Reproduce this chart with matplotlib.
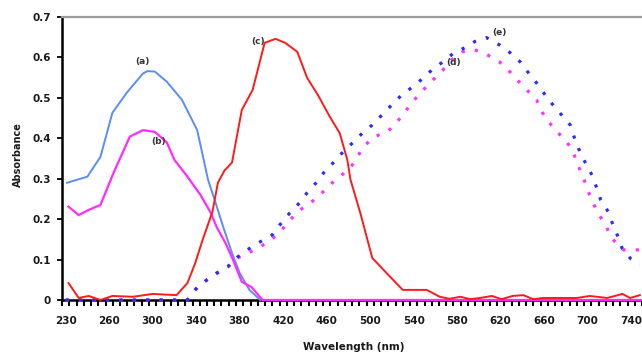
import numpy as np
from matplotlib import pyplot as plt
from matplotlib.ticker import FixedLocator, NullFormatter

# tick labels of the (category) wavelength axis, one label every 6 categories
tick_wl = [230, 260, 300, 340, 380, 420, 460, 500, 540, 580, 620, 660, 700, 740]

# (a) blue solid
a_wl = [231, 245, 254, 263, 276, 291, 295, 302, 313, 327, 341, 351, 357, 365, 373, 380, 389, 399]
a_abs = [0.29, 0.305, 0.354, 0.463, 0.512, 0.56, 0.566, 0.565, 0.54, 0.495, 0.42, 0.297,
         0.248, 0.18, 0.116, 0.067, 0.025, 0.0]

# (b) magenta solid
b_wl = [232, 239, 246, 254, 264, 279, 291, 302, 313, 320, 332, 344, 353, 359, 367, 374, 382,
        391, 401, 750]
b_abs = [0.231, 0.21, 0.223, 0.235, 0.314, 0.404, 0.42, 0.416, 0.39, 0.347, 0.305, 0.26,
         0.218, 0.18, 0.141, 0.099, 0.045, 0.032, 0.0, 0.0]

# (c) red solid
c_wl = [232, 239, 246, 254, 263, 282, 300, 322, 332, 339, 346, 355, 360, 366, 373, 382, 392,
        403, 413, 422, 433, 442, 452, 463, 472, 479, 482, 491, 502, 515, 530, 552, 564, 573,
        583, 592, 601, 612, 621, 631, 641, 650, 659, 675, 690, 702, 718, 732, 739, 748]
c_abs = [0.042, 0.005, 0.01, 0.0, 0.01, 0.008, 0.015, 0.012, 0.042, 0.09, 0.149, 0.218,
         0.29, 0.32, 0.34, 0.47, 0.52, 0.636, 0.646, 0.636, 0.614, 0.55, 0.507, 0.453, 0.413,
         0.347, 0.297, 0.215, 0.104, 0.067, 0.025, 0.025, 0.008, 0.003, 0.008, 0.002, 0.005,
         0.01, 0.002, 0.01, 0.012, 0.002, 0.005, 0.005, 0.005, 0.01, 0.005, 0.015, 0.005,
         0.012]

# (d) magenta dotted
d_wl = [230, 332, 341, 350, 360, 369, 378, 397, 409, 417, 425, 433, 445, 454, 463, 472, 482,
        494, 503, 516, 525, 532, 539, 549, 558, 567, 575, 585, 596, 608, 619, 627, 635, 644,
        653, 658, 664, 672, 681, 687, 691, 696, 700, 705, 710, 717, 722, 733, 742, 752]
d_abs = [0.0, 0.0, 0.03, 0.05, 0.067, 0.082, 0.104, 0.128, 0.149, 0.168, 0.193, 0.218, 0.24,
         0.26, 0.285, 0.305, 0.327, 0.379, 0.403, 0.416, 0.441, 0.465, 0.49, 0.52, 0.545,
         0.569, 0.594, 0.614, 0.619, 0.606, 0.589, 0.569, 0.545, 0.52, 0.495, 0.465, 0.441,
         0.416, 0.391, 0.364, 0.334, 0.304, 0.272, 0.24, 0.213, 0.183, 0.153, 0.124, 0.124,
         0.124]

# (e) blue dotted
e_wl = [230, 332, 341, 350, 359, 369, 378, 387, 397, 410, 417, 426, 435, 442, 451, 458, 467,
        475, 484, 493, 502, 511, 520, 529, 538, 548, 558, 567, 576, 587, 596, 607, 619, 629,
        638, 645, 653, 661, 668, 676, 684, 688, 693, 698, 704, 708, 712, 719, 723, 728, 732,
        740, 748]
e_abs = [0.0, 0.0, 0.032, 0.05, 0.067, 0.082, 0.106, 0.124, 0.141, 0.161, 0.186, 0.215, 0.24,
         0.265, 0.292, 0.317, 0.342, 0.366, 0.389, 0.413, 0.433, 0.458, 0.483, 0.507, 0.525,
         0.547, 0.572, 0.589, 0.609, 0.624, 0.639, 0.649, 0.631, 0.611, 0.589, 0.564, 0.537,
         0.507, 0.483, 0.458, 0.433, 0.40, 0.366, 0.339, 0.309, 0.28, 0.248, 0.218, 0.188,
         0.156, 0.126, 0.101, 0.087]

# category position of each label, padded so the mapping extends past both ends
map_wl = [225] + tick_wl + [780]
map_idx = [-1] + [6 * i for i in range(len(tick_wl))] + [84]


def fwd(x):
    return np.interp(x, map_wl, map_idx)


def inv(i):
    return np.interp(i, map_idx, map_wl)


plt.rcParams['font.family'] = 'DejaVu Sans'
fig = plt.figure(figsize=(6.42, 3.54), dpi=100)
ax = fig.add_axes([62 / 642, 54 / 354, 580 / 642, 283 / 354])
ax.set_xscale('function', functions=(fwd, inv))

dots = (0, (1.0, 3.2))
ax.plot(d_wl, d_abs, color='#ff33ff', lw=2.3, linestyle=dots, clip_on=False, zorder=3)
ax.plot(e_wl, e_abs, color='#2b2bff', lw=2.3, linestyle=dots, clip_on=False, zorder=3)
ax.plot(a_wl, a_abs, color='#5a8cff', lw=1.4, clip_on=False, zorder=3)
ax.plot(b_wl, b_abs, color='#ff2bff', lw=1.6, clip_on=False, zorder=3)
ax.plot(c_wl, c_abs, color='#ff1a1a', lw=1.4, clip_on=False, zorder=3)

ax.set_xlim(inv(-0.5), inv(79.5))
ax.set_ylim(0, 0.7)
ax.set_yticks(np.arange(0, 0.71, 0.1))
ax.set_yticklabels(['0', '0.1', '0.2', '0.3', '0.4', '0.5', '0.6', '0.7'])
ax.set_xticks(tick_wl)
ax.set_xticklabels([str(w) for w in tick_wl])
ax.xaxis.set_minor_locator(FixedLocator(inv(np.arange(-0.5, 80, 1))))
ax.xaxis.set_minor_formatter(NullFormatter())

ax.tick_params(axis='x', which='major', length=0, pad=11.5)
ax.tick_params(axis='x', which='minor', length=4.5, width=1.5, color='black')
ax.tick_params(axis='y', length=3.5, width=1.3, pad=4.3)
for lab in ax.get_xticklabels() + ax.get_yticklabels():
    lab.set_fontsize(7.5)
    lab.set_fontweight('bold')
    lab.set_color('#1a1a1a')

ax.spines['right'].set_visible(False)
ax.spines['top'].set_color('#9a9a9a')
ax.spines['top'].set_linewidth(1.6)
ax.spines['left'].set_linewidth(1.8)
ax.spines['bottom'].set_linewidth(1.8)

for txt, x, y in [('(a)', 291, 0.589), ('(b)', 305, 0.391), ('(c)', 397, 0.639),
                  ('(d)', 577, 0.587), ('(e)', 619, 0.661)]:
    ax.text(x, y, txt, fontsize=6.5, fontweight='bold', color='#333333',
            ha='center', va='center')

fig.text(18 / 642, (354 - 155) / 354, 'Absorbance', rotation=90, ha='center', va='center',
         fontsize=7, fontweight='bold', color='#1a1a1a')
fig.text(354 / 642, (354 - 342) / 354, 'Wavelength (nm)', ha='center', va='top',
         fontsize=7.5, fontweight='bold', color='#1a1a1a')

fig.savefig('out.png', dpi=100)
